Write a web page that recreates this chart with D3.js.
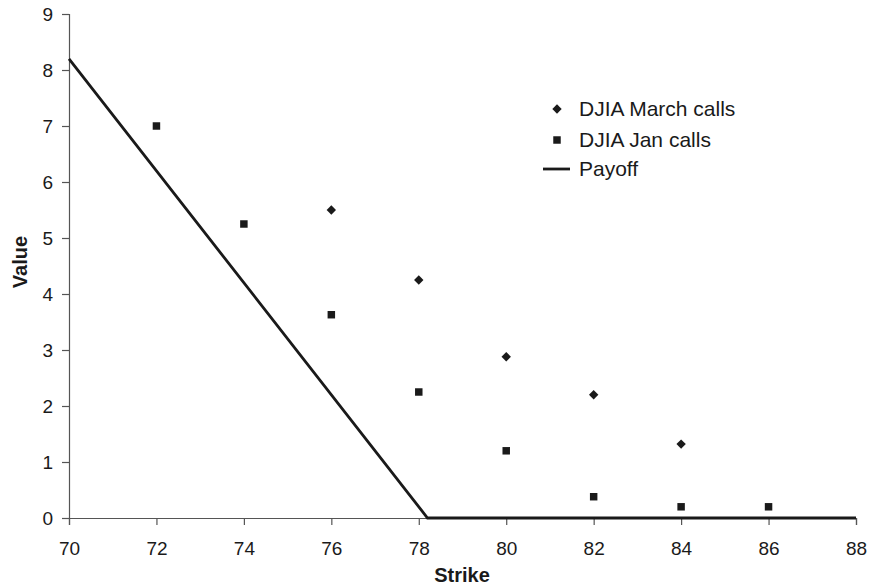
<!DOCTYPE html>
<html>
<head>
<meta charset="utf-8">
<script src="https://cdn.jsdelivr.net/npm/d3@7"></script>
<style>
body{margin:0;background:#fff;}
svg{display:block;font-family:"Liberation Sans",Arial,Helvetica,sans-serif;}
</style>
</head>
<body>
<svg id="chart" width="873" height="587"></svg>
<script>
const marchStrikes = [76, 78, 80, 82, 84];
const marchValues = [5.5, 4.25, 2.88, 2.2, 1.32];
const janStrikes = [72, 74, 76, 78, 80, 82, 84, 86];
const janValues = [7.0, 5.25, 3.63, 2.25, 1.2, 0.38, 0.2, 0.2];
const payoffStrikes = [70, 78.2, 88];
const payoffValues = [8.2, 0, 0];
const xTicks = [70, 72, 74, 76, 78, 80, 82, 84, 86, 88];
const yTicks = [0, 1, 2, 3, 4, 5, 6, 7, 8, 9];
const legendLabels = ["DJIA March calls", "DJIA Jan calls", "Payoff"];

(function () {
const svg = d3.select("#chart");
const mLeft = 69, mRight = 856, mTop = 14, mBottom = 518;
const x = d3.scaleLinear().domain([70, 88]).range([mLeft, mRight]);
const y = d3.scaleLinear().domain([0, 9]).range([mBottom, mTop]);
const ink = "#1a1a1a";
const font = "'Liberation Sans',Arial,sans-serif";

const xAxis = svg.append("g").attr("transform", `translate(0,${mBottom})`)
  .call(d3.axisBottom(x).tickValues(xTicks).tickSize(7).tickPadding(17).tickFormat(d3.format("d")));
const yAxis = svg.append("g").attr("transform", `translate(${mLeft},0)`)
  .call(d3.axisLeft(y).tickValues(yTicks).tickSize(7).tickPadding(9).tickFormat(d3.format("d")));
[xAxis, yAxis].forEach(a => {
  a.selectAll("path").attr("stroke", "#555").attr("stroke-width", 1.2);
  a.selectAll("line").attr("stroke", "#555").attr("stroke-width", 1.2);
  a.selectAll("text").attr("fill", ink).style("font-size", "19px").style("font-family", font);
});

svg.append("text").attr("x", 462).attr("y", 582).attr("text-anchor", "middle")
  .style("font-size", "20px").style("font-weight", "bold").style("font-family", font).attr("fill", ink).text("Strike");
svg.append("text").attr("transform", `translate(27,262) rotate(-90)`).attr("text-anchor", "middle")
  .style("font-size", "20px").style("font-weight", "bold").style("font-family", font).attr("fill", ink).text("Value");

const payoff = payoffStrikes.map((s, i) => [s, payoffValues[i]]);
svg.append("path").datum(payoff)
  .attr("d", d3.line().x(d => x(d[0])).y(d => y(d[1])))
  .attr("fill", "none").attr("stroke", ink).attr("stroke-width", 2.8);

const diamond = d3.symbol().type(d3.symbolDiamond2).size(56);
const square = d3.symbol().type(d3.symbolSquare).size(56);

svg.append("g").selectAll("path").data(marchStrikes.map((s, i) => [s, marchValues[i]]))
  .join("path").attr("d", diamond).attr("transform", d => `translate(${x(d[0])},${y(d[1])})`).attr("fill", ink);
svg.append("g").selectAll("path").data(janStrikes.map((s, i) => [s, janValues[i]]))
  .join("path").attr("d", square).attr("transform", d => `translate(${x(d[0])},${y(d[1])})`).attr("fill", ink);

const lg = svg.append("g");
const ly = [109, 140, 169];
lg.append("path").attr("d", diamond).attr("transform", `translate(557,${ly[0]})`).attr("fill", ink);
lg.append("path").attr("d", square).attr("transform", `translate(557,${ly[1]})`).attr("fill", ink);
lg.append("line").attr("x1", 543).attr("x2", 570).attr("y1", ly[2]).attr("y2", ly[2]).attr("stroke", ink).attr("stroke-width", 2.8);
legendLabels.forEach((t, i) => {
  lg.append("text").attr("x", 579).attr("y", ly[i]).attr("dy", "0.35em")
    .style("font-size", "21px").style("font-family", font).attr("fill", ink).text(t);
});
})();
</script>
</body>
</html>
